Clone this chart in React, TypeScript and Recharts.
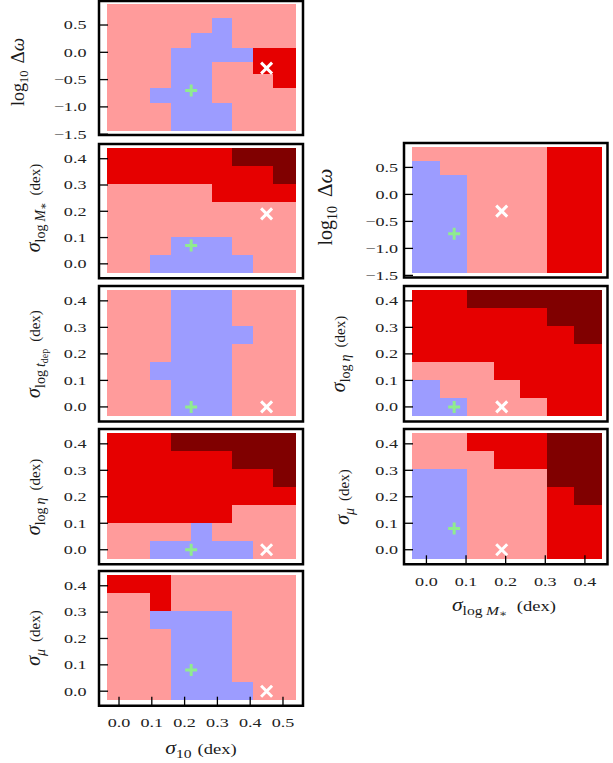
import React from "react"
import { ScatterChart, Scatter, XAxis, YAxis, ReferenceArea } from "recharts"

const FONT = '"Liberation Serif", "DejaVu Serif", serif'

// colour of each likelihood level
const LEVEL_COLORS: Record<string, string> = { B: "#9c9cff", P: "#ff9b9b", R: "#e60000", D: "#800000" }

// tick values
const S10_TICKS = [0, 0.1, 0.2, 0.3, 0.4, 0.5]
const SIG_TICKS = [0, 0.1, 0.2, 0.3, 0.4]
const DW_TICKS = [-1.5, -1, -0.5, 0, 0.5]

// grid cell edges (x: left -> right, y: top -> bottom)
const S10_EDGES = [-0.037, 0.03, 0.096, 0.159, 0.221, 0.284, 0.346, 0.408, 0.47, 0.54]
const SIGM_EDGES = [-0.036, 0.034, 0.102, 0.171, 0.237, 0.305, 0.373, 0.443]
const SIG_ROWS = [0.441, 0.373, 0.305, 0.237, 0.17, 0.102, 0.034, -0.035]
const DW_ROWS = [0.885, 0.62, 0.355, 0.085, -0.185, -0.4, -0.66, -0.935, -1.19, -1.45]

// level maps, one string per row (top -> bottom)
const S10_DW = ["PPPPPPPPP", "PPPPPBPPP", "PPPPBBPPP", "PPPBBBBRR", "PPPBBPPRR", "PPPBBPPPR", "PPBBBPPPP", "PPPBBBPPP", "PPPBBBPPP"]
const S10_MSTAR = ["RRRRRRDDD", "RRRRRRRRD", "PPPPPRRRR", "PPPPPPPPP", "PPPPPPPPP", "PPPBBBPPP", "PPBBBBBPP"]
const S10_TDEP = ["PPPBBBPPP", "PPPBBBPPP", "PPPBBBBPP", "PPPBBBPPP", "PPBBBBPPP", "PPPBBBPPP", "PPPBBBPPP"]
const S10_ETA = ["RRRDDDDDD", "RRRRRRDDD", "RRRRRRRRD", "RRRRRRRRR", "RRRRRRPPP", "PPPPBPPPP", "PPBBBBBPP"]
const S10_MU = ["RRRPPPPPP", "PPRPPPPPP", "PPBBBBPPP", "PPPBBBPPP", "PPPBBBPPP", "PPPBBBPPP", "PPPBBBBPP"]
const MSTAR_DW = ["PPPPPRR", "BPPPPRR", "BBPPPRR", "BBPPPRR", "BBPPPRR", "BBPPPRR", "BBPPPRR", "BBPPPRR", "BBPPPRR"]
const MSTAR_ETA = ["RRDDDDD", "RRRRRDD", "RRRRRRD", "RRRRRRR", "PPPRRRR", "BPPPRRR", "BBPPPRR"]
const MSTAR_MU = ["PPRRRDD", "PPPRRDD", "BBPPPDD", "BBPPPRD", "BBPPPRR", "BBPPPRR", "BBPPPRR"]

// input (green +) and best-fit (white x) points
const S10_TRUE = 0.22
const S10_BEST = 0.45
const MSTAR_TRUE = 0.07
const MSTAR_BEST = 0.19

type Seg = { t: string; size: number; it?: boolean; shift?: number; dx?: number }

const fmt = (v: number) => (v < 0 ? "\u2212" : "") + Math.abs(v).toFixed(1)

function buildCells(levels: string[], xEdges: number[], yEdges: number[]) {
  const out: { x1: number; x2: number; y1: number; y2: number; fill: string }[] = []
  levels.forEach((row, r) => {
    let start = 0
    for (let c = 1; c <= row.length; c++) {
      if (c === row.length || row[c] !== row[start]) {
        out.push({ x1: xEdges[start], x2: xEdges[c], y1: yEdges[r + 1], y2: yEdges[r], fill: LEVEL_COLORS[row[start]] })
        start = c
      }
    }
  })
  return out
}

const PlusMark = (p: any) => (
  <path d={`M${p.cx - 6},${p.cy}h12M${p.cx},${p.cy - 6}v12`} stroke="#8fec8f" strokeWidth={3} fill="none" />
)
const CrossMark = (p: any) => (
  <path d={`M${p.cx - 5.5},${p.cy - 5.5}l11,11M${p.cx - 5.5},${p.cy + 5.5}l11,-11`} stroke="#fff" strokeWidth={3} fill="none" />
)

const XTick = (p: any) => (
  <text transform={`translate(${p.x},${p.y}) scale(1.45,1)`} textAnchor="middle" dy="0.35em" fontFamily={FONT} fontSize={12.5} fill="#222">
    {fmt(p.payload.value)}
  </text>
)
const YTick = (p: any) => (
  <text transform={`translate(${p.x},${p.y}) scale(1.45,1)`} textAnchor="end" dy="0.35em" fontFamily={FONT} fontSize={12.5} fill="#222">
    {fmt(p.payload.value)}
  </text>
)

const TICK_LINE = { stroke: "#000", strokeWidth: 1.3 }

type PanelProps = {
  left: number; top: number; width: number; height: number
  xDomain: [number, number]; yDomain: [number, number]
  xTicks: number[]; yTicks: number[]
  xEdges: number[]; yEdges: number[]; levels: string[]
  plus: { x: number; y: number }; cross: { x: number; y: number }
  xLabels?: boolean; yGap: number
}

function Panel(p: PanelProps) {
  const ML = 62, MR = 6, MT = 8
  const MB = p.xLabels ? 34 : 10
  const cells = buildCells(p.levels, p.xEdges, p.yEdges)
  // every axis takes 1px, so margins are 1px smaller
  return (
    <div style={{ position: "absolute", left: p.left - ML, top: p.top - MT }}>
      <ScatterChart width={ML + p.width + MR} height={MT + p.height + MB} margin={{ top: MT - 1, right: MR - 1, bottom: MB - 1, left: ML - 1 }}>
        <XAxis xAxisId="b" type="number" dataKey="x" domain={p.xDomain} ticks={p.xTicks} interval={0} allowDataOverflow
          orientation="bottom" height={1} axisLine={false} tickSize={-9} tickMargin={26} tickLine={TICK_LINE}
          tick={p.xLabels ? XTick : false} />
        <XAxis xAxisId="t" type="number" dataKey="x" domain={p.xDomain} ticks={p.xTicks} interval={0} allowDataOverflow
          orientation="top" height={1} axisLine={false} tickSize={-9} tickLine={TICK_LINE} tick={false} />
        <YAxis yAxisId="l" type="number" dataKey="y" domain={p.yDomain} ticks={p.yTicks} interval={0} allowDataOverflow
          width={1} axisLine={false} tickSize={-9} tickMargin={9 + p.yGap} tickLine={TICK_LINE} tick={YTick} />
        <YAxis yAxisId="r" type="number" dataKey="y" domain={p.yDomain} ticks={p.yTicks} interval={0} allowDataOverflow
          orientation="right" width={1} axisLine={false} tickSize={-9} tickLine={TICK_LINE} tick={false} />
        {cells.map((c, i) => (
          <ReferenceArea key={i} xAxisId="b" yAxisId="l" x1={c.x1} x2={c.x2} y1={c.y1} y2={c.y2}
            fill={c.fill} fillOpacity={1} stroke="none" ifOverflow="visible" shapeRendering="crispEdges" />
        ))}
        <ReferenceArea xAxisId="b" yAxisId="l" x1={p.xDomain[0]} x2={p.xDomain[1]} y1={p.yDomain[0]} y2={p.yDomain[1]}
          fill="none" fillOpacity={0} stroke="#000" strokeWidth={2.5} ifOverflow="visible" />
        <Scatter xAxisId="b" yAxisId="l" data={[p.plus]} shape={PlusMark} isAnimationActive={false} />
        <Scatter xAxisId="b" yAxisId="l" data={[p.cross]} shape={CrossMark} isAnimationActive={false} />
      </ScatterChart>
    </div>
  )
}

function MathText({ x, y, segs, vertical, sx = 1 }: { x: number; y: number; segs: Seg[]; vertical?: boolean; sx?: number }) {
  let prev = 0
  const tr = vertical ? `translate(${x},${y}) rotate(-90)` : `translate(${x},${y}) scale(${sx},1)`
  return (
    <text transform={tr} textAnchor="middle" fontFamily={FONT} fill="#1a1a1a">
      {segs.map((s, i) => {
        const sh = s.shift ?? 0
        const dy = sh - prev
        prev = sh
        return (
          <tspan key={i} fontSize={s.size} fontStyle={s.it ? "italic" : "normal"} dy={dy} dx={s.dx ?? 0}>
            {s.t}
          </tspan>
        )
      })}
    </text>
  )
}

const DW_BIG: Seg[] = [{ t: "log", size: 18 }, { t: "10", size: 12.5, shift: 4 }, { t: "\u0394", size: 19, dx: 7 }, { t: "\u03c9", size: 19, it: true }]
const DW_RIGHT: Seg[] = [{ t: "log", size: 20 }, { t: "10", size: 14, shift: 4.5 }, { t: "\u0394", size: 21, dx: 9 }, { t: "\u03c9", size: 21, it: true }]
const SIG = (sub: Seg[]): Seg[] => [{ t: "\u03c3", size: 20, it: true }, ...sub, { t: "(dex)", size: 15, dx: 7 }]
const LAB_MSTAR = SIG([{ t: "log", size: 14, shift: 4.5 }, { t: "M", size: 14, it: true, shift: 4.5, dx: 3 }, { t: "\u2217", size: 11, shift: 7 }])
const LAB_TDEP = SIG([{ t: "log", size: 14, shift: 4.5 }, { t: "t", size: 14, it: true, shift: 4.5, dx: 3 }, { t: "dep", size: 10, shift: 7.5 }])
const LAB_ETA = SIG([{ t: "log", size: 14, shift: 4.5 }, { t: "\u03b7", size: 14, it: true, shift: 4.5, dx: 3 }])
const LAB_MU = SIG([{ t: "\u03bc", size: 14, it: true, shift: 4.5 }])
const X_S10: Seg[] = [{ t: "\u03c3", size: 18, it: true }, { t: "10", size: 13, shift: 4 }, { t: "(dex)", size: 15.5, dx: 5 }]
const X_MSTAR: Seg[] = [{ t: "\u03c3", size: 18, it: true }, { t: "log", size: 13, shift: 4 }, { t: "M", size: 13, it: true, shift: 4, dx: 3 }, { t: "\u2217", size: 10, shift: 6 }, { t: "(dex)", size: 15.5, dx: 8 }]

export default function App() {
  const LX = 99.3, RX = 404.3, W = 204
  const SIGY: [number, number] = [-0.055, 0.456]
  const S10X: [number, number] = [-0.061, 0.561]
  const MSX: [number, number] = [-0.0566, 0.457]
  const left = { left: LX, width: W, xDomain: S10X, xTicks: S10_TICKS, xEdges: S10_EDGES, yGap: 12.5 }
  const right = { left: RX, width: 203.5, xDomain: MSX, xTicks: SIG_TICKS, xEdges: SIGM_EDGES, yGap: 6 }
  const sig = { yDomain: SIGY, yTicks: SIG_TICKS, yEdges: SIG_ROWS }
  return (
    <div style={{ position: "absolute", left: 0, top: 0, width: 613, height: 763, background: "#fff", overflow: "hidden" }}>
      <Panel {...left} top={1} height={134} yDomain={[-1.515, 0.94]} yTicks={DW_TICKS} yEdges={DW_ROWS} levels={S10_DW}
        plus={{ x: S10_TRUE, y: -0.7 }} cross={{ x: S10_BEST, y: -0.29 }} />
      <Panel {...left} {...sig} top={144} height={134.3} levels={S10_MSTAR} plus={{ x: S10_TRUE, y: 0.07 }} cross={{ x: S10_BEST, y: 0.19 }} />
      <Panel {...left} {...sig} top={286} height={135.5} levels={S10_TDEP} plus={{ x: S10_TRUE, y: 0 }} cross={{ x: S10_BEST, y: 0 }} />
      <Panel {...left} {...sig} top={429} height={135.3} levels={S10_ETA} plus={{ x: S10_TRUE, y: 0 }} cross={{ x: S10_BEST, y: 0 }} />
      <Panel {...left} {...sig} top={571} height={134.7} levels={S10_MU} plus={{ x: S10_TRUE, y: 0.08 }} cross={{ x: S10_BEST, y: 0 }} xLabels />
      <Panel {...right} top={143.3} height={134.4} yDomain={[-1.537, 0.952]} yTicks={DW_TICKS} yEdges={DW_ROWS} levels={MSTAR_DW}
        plus={{ x: MSTAR_TRUE, y: -0.73 }} cross={{ x: MSTAR_BEST, y: -0.31 }} />
      <Panel {...right} {...sig} top={286} height={135.5} levels={MSTAR_ETA} plus={{ x: MSTAR_TRUE, y: 0 }} cross={{ x: MSTAR_BEST, y: 0 }} />
      <Panel {...right} {...sig} top={429} height={135.3} levels={MSTAR_MU} plus={{ x: MSTAR_TRUE, y: 0.08 }} cross={{ x: MSTAR_BEST, y: 0 }} xLabels />
      <svg width={613} height={763} style={{ position: "absolute", left: 0, top: 0, pointerEvents: "none" }}>
        <MathText vertical x={24} y={72} segs={DW_BIG} />
        <MathText vertical x={40} y={208} segs={LAB_MSTAR} />
        <MathText vertical x={40} y={354} segs={LAB_TDEP} />
        <MathText vertical x={40} y={497} segs={LAB_ETA} />
        <MathText vertical x={40} y={638} segs={LAB_MU} />
        <MathText vertical x={332} y={207} segs={DW_RIGHT} />
        <MathText vertical x={345} y={354} segs={LAB_ETA} />
        <MathText vertical x={349} y={497} segs={LAB_MU} />
        <MathText x={201} y={753.5} sx={1.2} segs={X_S10} />
        <MathText x={504} y={611} sx={1.2} segs={X_MSTAR} />
      </svg>
    </div>
  )
}
